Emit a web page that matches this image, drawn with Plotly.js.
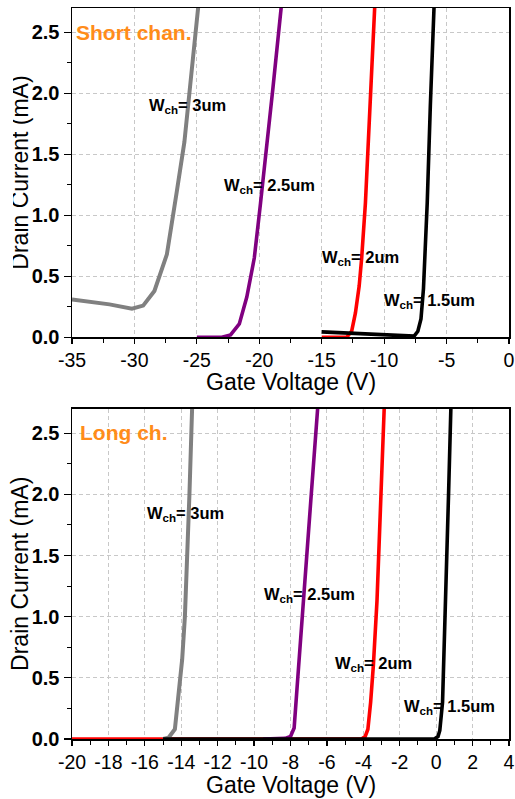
<!DOCTYPE html>
<html>
<head>
<meta charset="utf-8">
<script src="https://cdn.plot.ly/plotly-3.0.1.min.js"></script>
<style>html,body{margin:0;padding:0;background:#fff;}#wrap{position:relative;width:515px;height:799px;}#chart{width:515px;height:799px;}#crop{position:absolute;left:0;top:0;width:13px;height:345px;background:#fff;}</style>
</head>
<body>
<div id="wrap"><div id="chart"></div><div id="crop"></div></div>
<script>
// ---- Short channel (top panel) ----
const shortW30_x = [-35, -32, -30.2, -29.3, -28.4, -27.4, -26.6, -26.0, -25.6, -25.1, -24.85];
const shortW30_y = [0.31, 0.27, 0.235, 0.26, 0.38, 0.68, 1.2, 1.6, 2.0, 2.5, 2.75];
const shortW25_x = [-25, -23, -22.3, -21.6, -21.0, -20.4, -19.9, -19.4, -18.9, -18.5, -18.2];
const shortW25_y = [0, 0, 0.02, 0.11, 0.33, 0.65, 1.1, 1.55, 2.05, 2.45, 2.75];
const shortW20_x = [-15, -13, -12.6, -12.3, -12.0, -11.8, -11.5, -11.1, -10.75];
const shortW20_y = [0, 0, 0.05, 0.2, 0.42, 0.65, 1.1, 1.9, 2.72];
const shortW15_x = [-15, -12, -9, -7.6, -7.3, -7.05, -6.85, -6.7, -6.55, -6.3, -6.0];
const shortW15_y = [0.045, 0.03, 0.015, 0.01, 0.05, 0.15, 0.4, 0.7, 1.1, 1.9, 2.72];

// ---- Long channel (bottom panel) ----
const longW20_x = [-20, -4.1, -3.9, -3.75, -3.6, -3.45, -3.25, -3.05, -2.85];
const longW20_y = [0, 0, 0.02, 0.08, 0.3, 0.6, 1.13, 2.0, 2.72];
const longW30_x = [-15, -14.7, -14.35, -13.95, -13.8, -13.65, -13.55, -13.4];
const longW30_y = [0, 0.01, 0.08, 0.65, 1.0, 1.5, 2.0, 2.72];
const longW25_x = [-9.5, -8.3, -8.0, -7.8, -7.6, -7.27, -6.86, -6.5];
const longW25_y = [0, 0.005, 0.02, 0.09, 0.5, 1.13, 2.0, 2.72];
const longW15_x = [-15, -0.1, 0.1, 0.2, 0.35, 0.49, 0.68, 0.81];
const longW15_y = [0, 0, 0.02, 0.07, 0.3, 1.13, 2.0, 2.72];

// labels and ticks
const widthLabels = ["W<sub>ch</sub>= 3um", "W<sub>ch</sub>= 2.5um", "W<sub>ch</sub>= 2um", "W<sub>ch</sub>= 1.5um"];
const shortLabelX = [-29.0, -23.0, -15.1, -10.15];
const shortLabelY = [1.9, 1.24, 0.65, 0.3];
const longLabelX = [-16.0, -9.58, -5.68, -1.9];
const longLabelY = [1.84, 1.18, 0.61, 0.26];
const panelTitles = ["Short chan.", "Long ch."];
const xTitle = "Gate Voltage (V)";
const yTitle = "Drain Current (mA)";
const yTicks = [0, 0.5, 1.0, 1.5, 2.0, 2.5];
const yTickText = ["0.0", "0.5", "1.0", "1.5", "2.0", "2.5"];
const xTopTicks = [-35, -30, -25, -20, -15, -10, -5, 0];
const xTopTickText = ["-35", "-30", "-25", "-20", "-15", "-10", "-5", "0"];
const xBotTicks = [-20, -18, -16, -14, -12, -10, -8, -6, -4, -2, 0, 2, 4];
const xBotTickText = ["-20", "-18", "-16", "-14", "-12", "-10", "-8", "-6", "-4", "-2", "0", "2", "4"];

const colors = {w30: "#808080", w25: "#800080", w20: "#ff0000", w15: "#000000"};
const FONT = "Liberation Sans, Arial, Helvetica, sans-serif";

function tr(x, y, color, xa, ya, w) {
  return {x: x, y: y, type: "scatter", mode: "lines", xaxis: xa, yaxis: ya,
          line: {color: color, width: w || 3.6}, hoverinfo: "skip", showlegend: false};
}

const data = [
  tr(shortW30_x, shortW30_y, colors.w30, "x", "y", 4),
  tr(shortW25_x, shortW25_y, colors.w25, "x", "y"),
  tr(shortW20_x, shortW20_y, colors.w20, "x", "y"),
  tr(shortW15_x, shortW15_y, colors.w15, "x", "y"),
  tr(longW20_x, longW20_y, colors.w20, "x2", "y2"),
  tr(longW30_x, longW30_y, colors.w30, "x2", "y2", 4),
  tr(longW25_x, longW25_y, colors.w25, "x2", "y2"),
  tr(longW15_x, longW15_y, colors.w15, "x2", "y2")
];

function xAxis(range, tv, tt, minor, anchor) {
  return {
    range: range, tickvals: tv, ticktext: tt, anchor: anchor,
    showline: true, linecolor: "#000", linewidth: 1.5, mirror: true,
    ticks: "outside", ticklen: 5, tickwidth: 1.2, tickcolor: "#000",
    minor: {dtick: minor, tick0: 0, ticks: "outside", ticklen: 4, tickwidth: 1, tickcolor: "#000", showgrid: false},
    showgrid: true, gridcolor: "#c8c8c8", gridwidth: 1, griddash: "4px,3px",
    zeroline: false,
    tickfont: {family: FONT, size: 19.5, color: "#000"},
    fixedrange: true
  };
}
function yAxis(domain, anchor) {
  return {
    domain: domain, range: [0, 2.7], anchor: anchor,
    tickvals: yTicks, ticktext: yTickText,
    showline: true, linecolor: "#000", linewidth: 1.5, mirror: true,
    ticks: "outside", ticklen: 7, tickwidth: 1.2, tickcolor: "#000",
    minor: {dtick: 0.25, ticks: "outside", ticklen: 4, tickwidth: 1, tickcolor: "#000", showgrid: false},
    showgrid: true, gridcolor: "#c8c8c8", gridwidth: 1, griddash: "4px,3px",
    zeroline: false,
    tickfont: {family: FONT, size: 20, color: "#000", weight: "bold"},
    fixedrange: true
  };
}

const annotations = [];
for (let i = 0; i < widthLabels.length; i++) {
  annotations.push({x: shortLabelX[i], y: shortLabelY[i], xref: "x", yref: "y", text: widthLabels[i],
    showarrow: false, xanchor: "left", yanchor: "middle",
    font: {family: FONT, size: 16.5, color: "#000", weight: "bold"}});
  annotations.push({x: longLabelX[i], y: longLabelY[i], xref: "x2", yref: "y2", text: widthLabels[i],
    showarrow: false, xanchor: "left", yanchor: "middle",
    font: {family: FONT, size: 16.5, color: "#000", weight: "bold"}});
}
annotations.push({x: -34.82, y: 2.5, xref: "x", yref: "y", text: panelTitles[0], showarrow: false,
  xanchor: "left", yanchor: "middle", font: {family: FONT, size: 21, color: "#ff8c1a", weight: "bold"}});
annotations.push({x: -19.65, y: 2.51, xref: "x2", yref: "y2", text: panelTitles[1], showarrow: false,
  xanchor: "left", yanchor: "middle", font: {family: FONT, size: 21, color: "#ff8c1a", weight: "bold"}});
// axis titles
[["x domain", "y domain"], ["x2 domain", "y2 domain"]].forEach(function (r, k) {
  annotations.push({x: 0.5, y: 0, xref: r[0], yref: r[1], text: xTitle, showarrow: false,
    xanchor: "center", yanchor: "middle", yshift: k === 0 ? -44.5 : -45.5,
    font: {family: FONT, size: 23, color: "#000"}});
  annotations.push({x: 0, y: 0.5, xref: r[0], yref: r[1], text: yTitle, showarrow: false, textangle: -90,
    xanchor: "center", yanchor: "middle", xshift: -52,
    font: {family: FONT, size: 23, color: "#000"}});
});

const layout = {
  width: 515, height: 799,
  margin: {l: 71.5, r: 5.5, t: 8, b: 60},
  paper_bgcolor: "#fff", plot_bgcolor: "#fff",
  showlegend: false,
  xaxis: xAxis([-35, 0], xTopTicks, xTopTickText, 2.5, "y"),
  yaxis: yAxis([0.5495, 1], "x"),
  xaxis2: xAxis([-20, 4], xBotTicks, xBotTickText, 1, "y2"),
  yaxis2: yAxis([0, 0.4517], "x2"),
  annotations: annotations
};

Plotly.newPlot("chart", data, layout, {displayModeBar: false, staticPlot: true});
</script>
</body>
</html>
